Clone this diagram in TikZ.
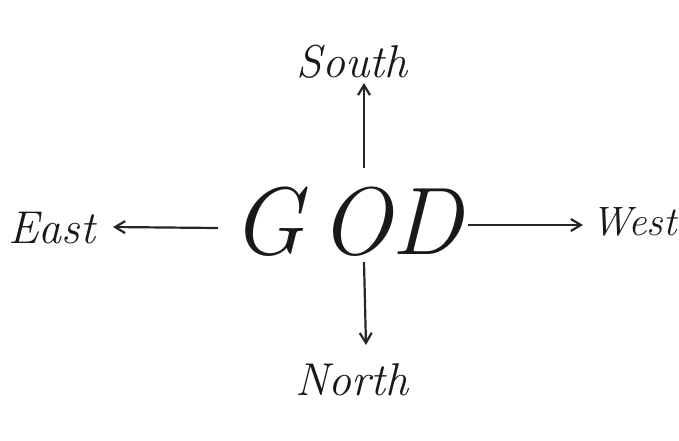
\documentclass[tikz,border=0pt]{standalone}
\usepackage{fontspec}
\usetikzlibrary{arrows.meta}
\begin{document}
\begin{tikzpicture}[x=1pt,y=-1pt,
  ink/.style={draw=black!85, line width=2.2pt, -{Straight Barb[length=10pt,width=12pt,line width=2.2pt]}},
  word/.style={inner sep=0pt, text=black!90, font=\fontsize{46}{52}\selectfont\itshape},
  bigword/.style={inner sep=0pt, text=black!90, font=\fontsize{96}{104}\selectfont\itshape}]
\useasboundingbox (0,0) rectangle (679,440);
\node[bigword] (god) at (347,222) {G\,OD};
\node[word] (south) at (352,62) {South};
\node[word] (north) at (352,380) {North};
\node[word, anchor=west] (east) at (8,228) {East};
\node[word, anchor=west, font=\fontsize{41}{48}\selectfont\itshape] (west) at (591,222) {West};
\coordinate (gu) at (364,168);
\coordinate (gd) at (364,262);
\coordinate (gl) at (218,228);
\coordinate (gr) at (468,225);
\coordinate (su) at (364,83);
\coordinate (nd) at (366,345);
\coordinate (el) at (113,227);
\coordinate (wr) at (583,225);
\draw[ink] (gu) -- (su);
\draw[ink] (gd) -- (nd);
\draw[ink] (gl) -- (el);
\draw[ink] (gr) -- (wr);
\end{tikzpicture}
\end{document}
